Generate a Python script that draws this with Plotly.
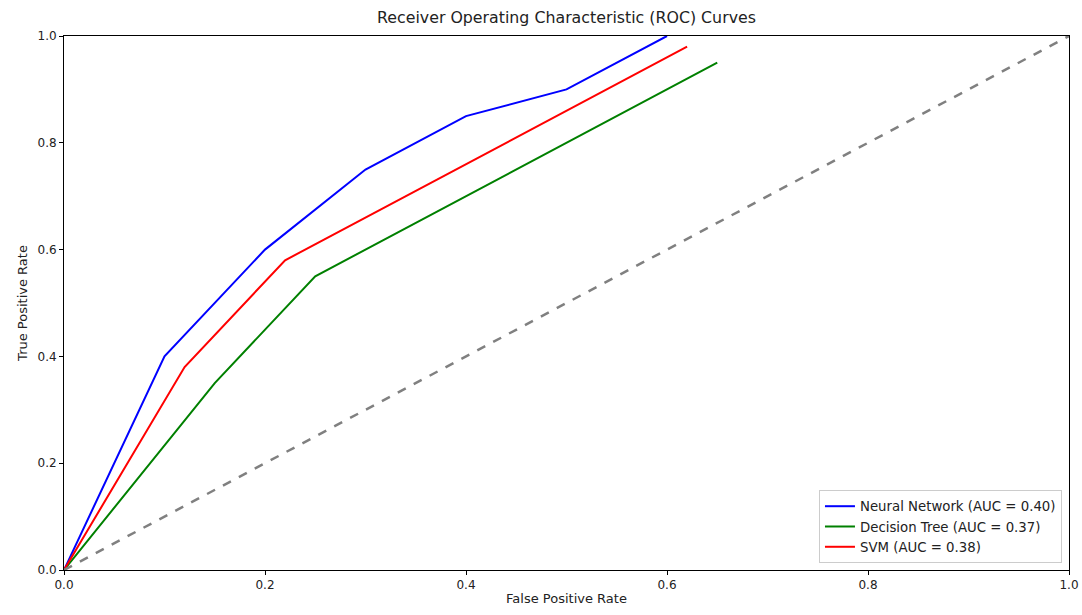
import plotly.graph_objects as go

nn_fpr = [0.0, 0.1, 0.2, 0.3, 0.4, 0.5, 0.6]
nn_tpr = [0.0, 0.4, 0.6, 0.75, 0.85, 0.9, 1.0]
dt_fpr = [0.0, 0.15, 0.25, 0.65]
dt_tpr = [0.0, 0.35, 0.55, 0.95]
svm_fpr = [0.0, 0.12, 0.22, 0.62]
svm_tpr = [0.0, 0.38, 0.58, 0.98]
diag = [0.0, 1.0]
tick_vals = [0.0, 0.2, 0.4, 0.6, 0.8, 1.0]
tick_text = ["0.0", "0.2", "0.4", "0.6", "0.8", "1.0"]

fig = go.Figure()
fig.add_trace(go.Scatter(x=nn_fpr, y=nn_tpr, mode="lines", name="Neural Network (AUC = 0.40)",
                         line=dict(color="blue", width=2)))
fig.add_trace(go.Scatter(x=dt_fpr, y=dt_tpr, mode="lines", name="Decision Tree (AUC = 0.37)",
                         line=dict(color="green", width=2)))
fig.add_trace(go.Scatter(x=svm_fpr, y=svm_tpr, mode="lines", name="SVM (AUC = 0.38)",
                         line=dict(color="red", width=2)))
fig.add_trace(go.Scatter(x=diag, y=diag, mode="lines", showlegend=False,
                         line=dict(color="gray", width=2.5, dash="dash")))

axis_common = dict(range=[0, 1], showgrid=False, zeroline=False, showline=True, mirror=True,
                   linecolor="black", linewidth=1, ticks="outside", ticklen=4, tickcolor="black",
                   tickvals=tick_vals, ticktext=tick_text, automargin=False,
                   tickfont=dict(size=12, color="#222"))

fig.update_layout(
    width=1082, height=615,
    margin=dict(l=64, r=13, t=36, b=45),
    paper_bgcolor="white", plot_bgcolor="white",
    font=dict(family="DejaVu Sans", size=12, color="#222"),
    title=dict(text="Receiver Operating Characteristic (ROC) Curves", x=0.5, xref="paper",
               xanchor="center", y=0.972, yanchor="middle", font=dict(size=15.8)),
    xaxis=dict(title=dict(text="False Positive Rate", standoff=2, font=dict(size=13)), **axis_common),
    yaxis=dict(title=dict(text="True Positive Rate", standoff=6, font=dict(size=13)), **axis_common),
    legend=dict(x=0.993, y=0.013, xanchor="right", yanchor="bottom",
                bgcolor="rgba(255,255,255,0.8)", bordercolor="#ccc", borderwidth=1,
                font=dict(size=13.3), tracegroupgap=0),
    showlegend=True,
)

fig.write_html("out.html")
